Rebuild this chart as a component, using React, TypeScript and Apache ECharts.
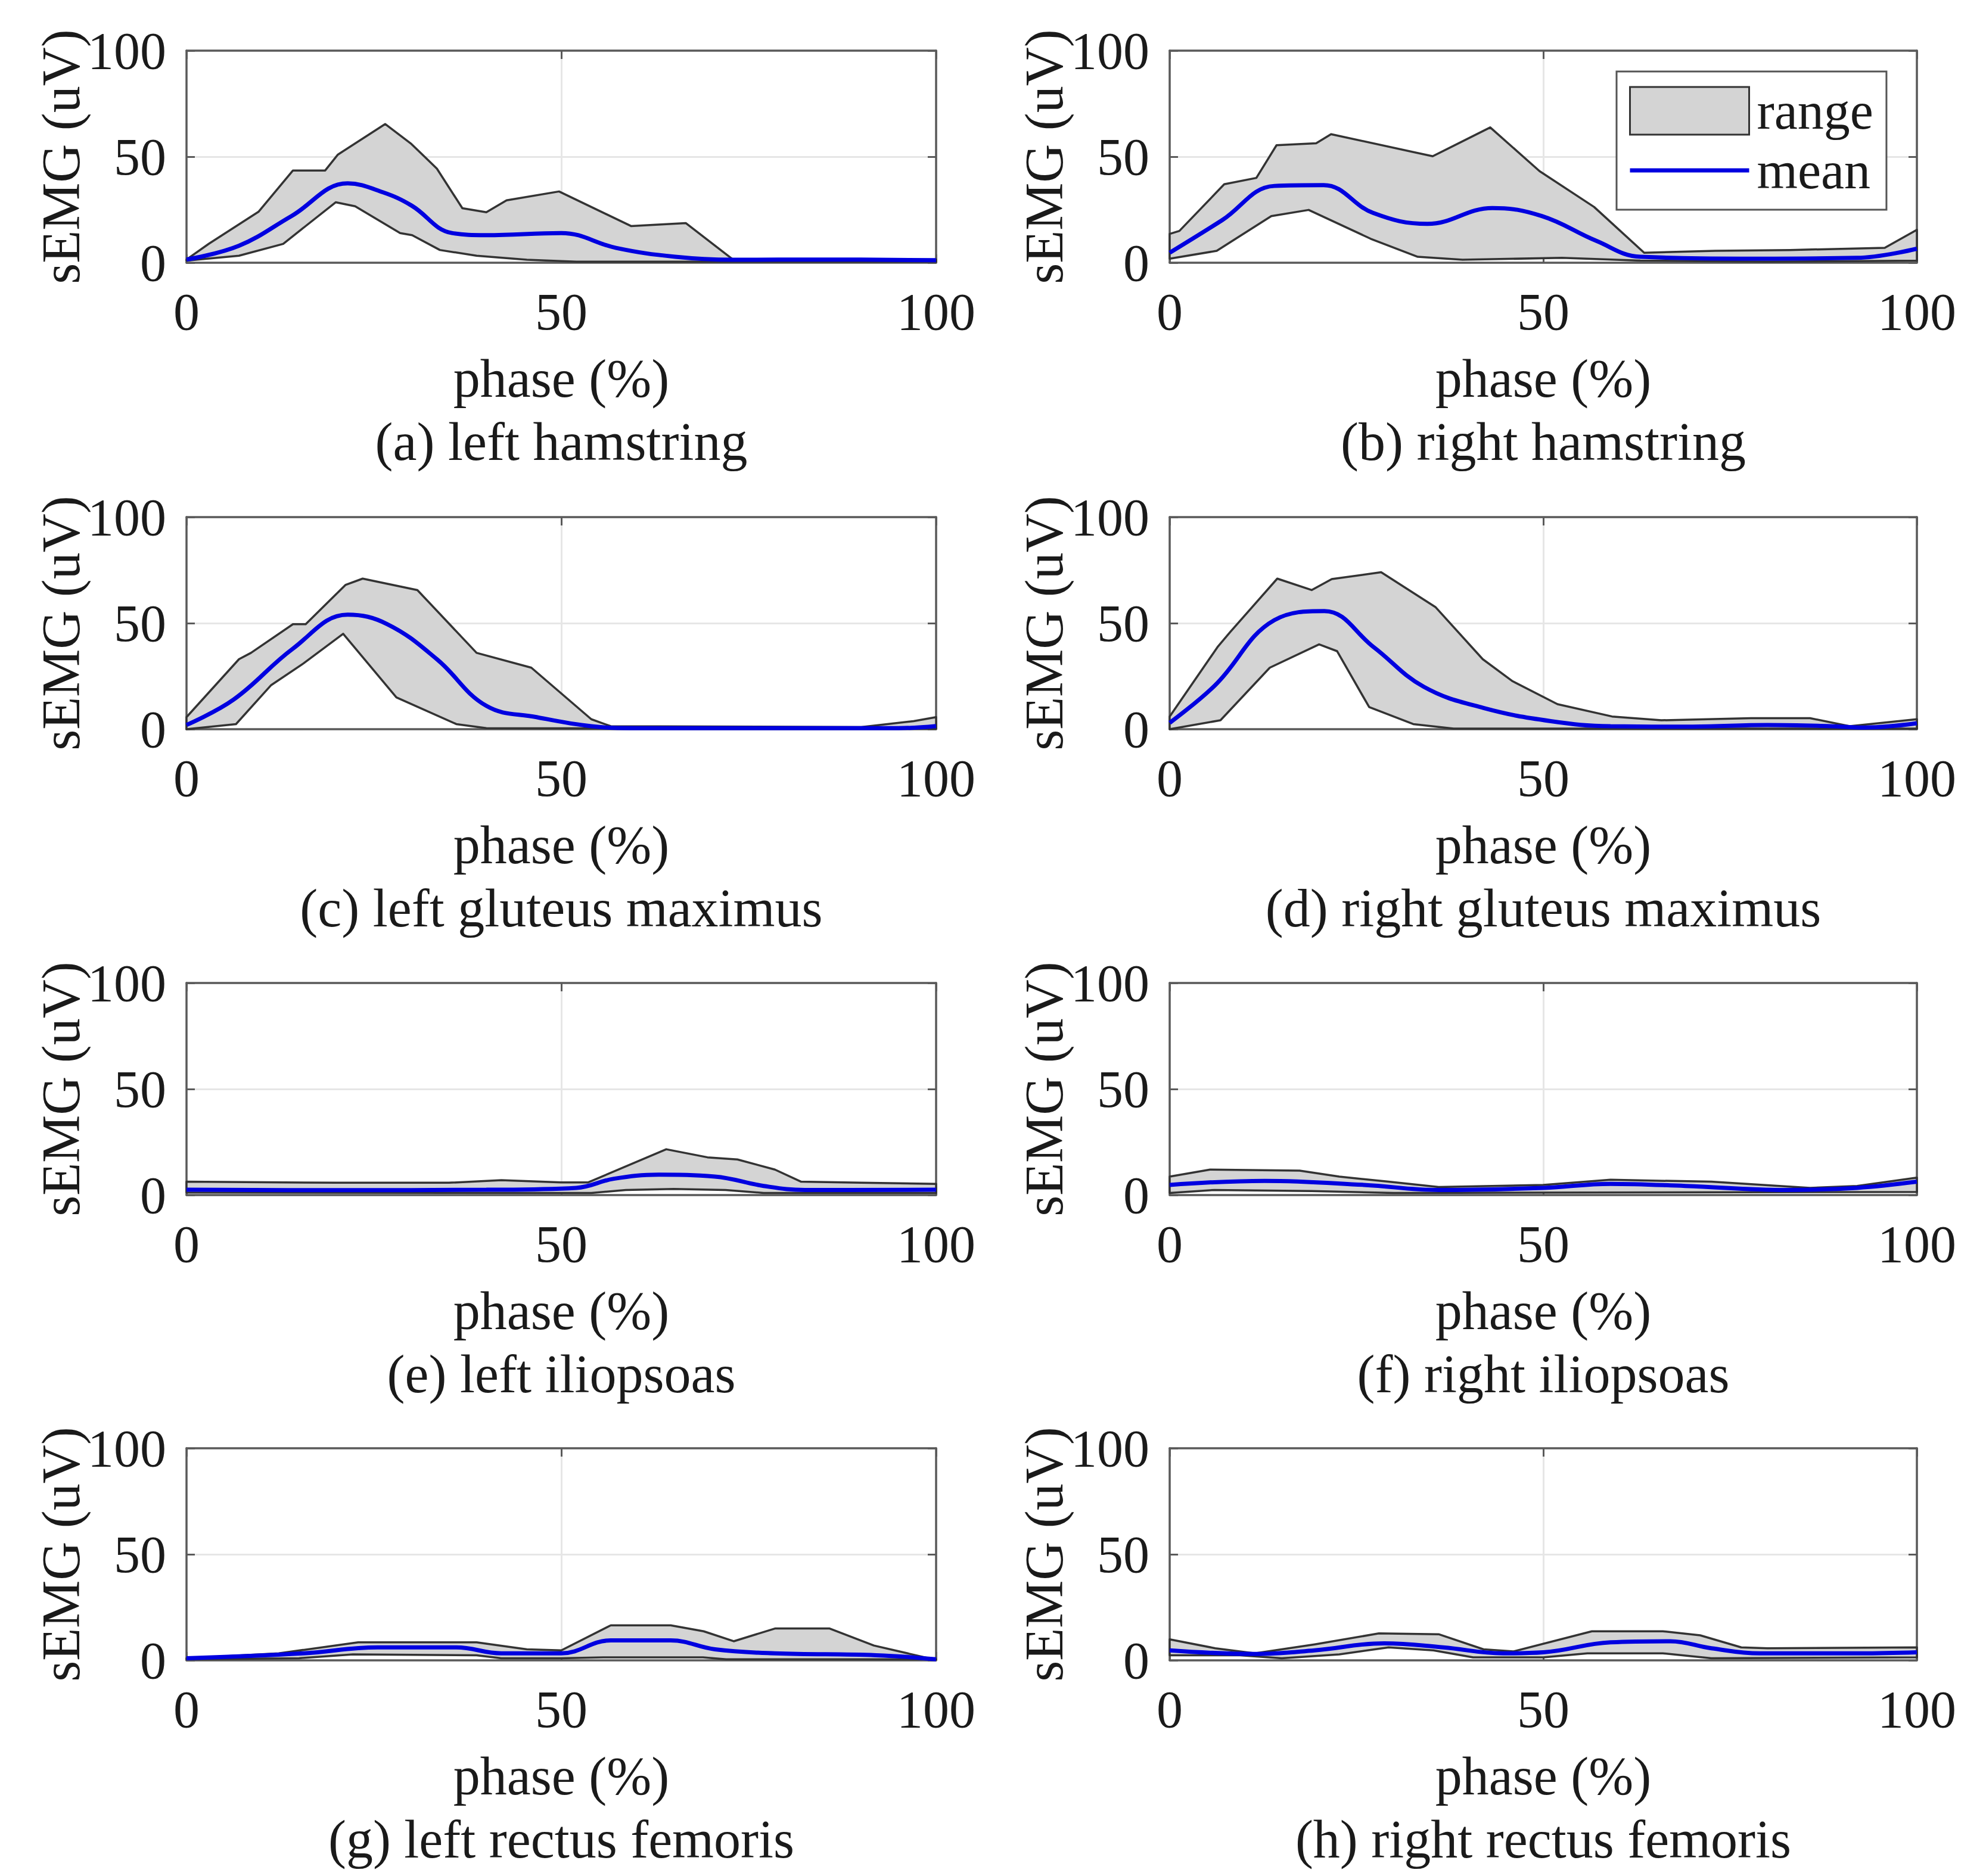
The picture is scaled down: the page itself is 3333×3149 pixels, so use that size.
import React, { useEffect, useRef } from 'react';
import * as echarts from 'echarts';

// ---------- data: [phase %, sEMG uV] ----------
const hamLUpper = [[0,1.5],[3,9],[9.6,24],[14.2,43.5],[18.5,43.5],[20.2,51],[26.5,65.4],[30,56],[33.4,44.4],[36.8,25.7],[40,23.8],[42.7,29.4],[49.7,33.6],[59.3,17.3],[66.6,18.7],[72.8,1.8],[80,1.5],[90,1.5],[100,1.5]];
const hamLLower = [[0,1],[7,3.3],[12.9,8.9],[19.9,28.5],[22.5,26.6],[28.5,14],[30.1,13],[33.8,6],[38.7,3.3],[45.4,1.4],[52,0.5],[100,0.5]];
const hamLMean = [[0,1.5],[7,8],[14,22],[21.5,37.4],[26.2,33.2],[30,27],[35.4,14],[40,13],[50,14],[57.3,7],[65.2,2.8],[72.8,1.4],[85,1.5],[100,1.2]];

const hamRUpper = [[0,13.6],[1.3,15],[7.3,37],[11.6,40],[14.3,55.4],[19.6,56.3],[21.6,60.6],[35.2,50.2],[42.9,63.8],[49.5,43.2],[56.8,26.3],[63.5,4.7],[73,5.6],[83,6],[95.7,7],[100,15.5]];
const hamRLower = [[0,1.9],[6.3,5.6],[13.6,22],[18.6,24.9],[26.9,11.3],[33.2,2.8],[39.2,1.4],[52.5,2.3],[63,1],[80,0.5],[100,1]];
const hamRMean = [[0,4.7],[7,20],[14,36.2],[20.6,36.6],[27.2,23.5],[34.5,18.3],[43.2,25.8],[49.8,22],[57.1,10.3],[63,2.8],[79,1.9],[92,2.3],[100,6.6]];

const gluLUpper = [[0,5.7],[7,33],[8.6,36],[14.2,49.5],[15.9,49.5],[21.2,68],[23.5,71],[30.8,65.6],[38.7,36],[46,29],[54,4.7],[56.6,1.4],[90,1],[97,3.8],[100,5.7]];
const gluLLower = [[0,0],[6.6,2.4],[11.3,20.8],[15.6,31],[20.9,45],[28,15],[36,2.4],[40,0.5],[100,0.3]];
const gluLMean = [[0,2],[6.3,14],[14.2,38],[21.5,54],[26.8,49.5],[33.4,33],[40,11],[46.7,5.7],[54,1.4],[60,0.5],[95,0.5],[100,1.5]];

const gluRUpper = [[0,6],[6.4,38.7],[8.1,45.8],[14.4,71],[19,65.6],[21.7,70.8],[28.3,74],[35.6,57.5],[41.9,33],[45.9,22.6],[51.9,11.8],[59.2,6],[65.8,4.2],[77.8,5.2],[85.7,5.2],[91,1.4],[100,4.7]];
const gluRLower = [[0,0],[6.8,4.2],[13.4,29],[20,40],[22.4,36.8],[26.7,10.4],[32.6,2.4],[38,0.3],[100,0.3]];
const gluRMean = [[0,3],[6.1,20.8],[14,51.4],[20.7,55.7],[27.3,38.7],[34,20],[42,10],[51,3.8],[59,1.4],[70,1.2],[80,2],[88,1.5],[93,0.8],[100,2.8]];

const iliLUpper = [[0,6.3],[20,5.8],[35,5.8],[42,7],[50,6],[53.6,6],[64,21.6],[69.5,17.8],[73.5,16.8],[78.5,12],[82,6.3],[90,5.8],[100,5.3]];
const iliLLower = [[0,1.2],[50,1],[54,1],[58.6,2.4],[65,2.9],[71.9,2.4],[77,1],[100,1]];
const iliLMean = [[0,2.5],[20,2.3],[40,2.5],[52,3.4],[57,7.7],[63,9.6],[70.5,8.7],[77,4.3],[82.5,2.4],[100,2.5]];

const iliRUpper = [[0,8.7],[5.4,12],[17.4,11.5],[22.7,8.7],[29.3,6.3],[36,3.8],[50,4.8],[59,7.2],[72.5,6.3],[85.7,3.4],[92,4.3],[100,8.2]];
const iliRLower = [[0,1],[6,2.4],[19,1.9],[30,1],[100,1.5]];
const iliRMean = [[0,4.8],[12.7,6.7],[26,4.8],[36,2.4],[50,3.4],[59,5.3],[69,4.3],[82.5,2.4],[92,3.4],[100,6.3]];

const recLUpper = [[0,1],[12.3,3.3],[22.9,8.5],[38.7,8.5],[45.4,5.2],[50,4.7],[56.6,16.5],[64.6,16.5],[69,13.7],[73,9],[78.5,15],[85.8,15],[91.7,7],[99,1],[100,0.5]];
const recLLower = [[0,0.5],[15,1],[22.2,2.8],[38.7,2.4],[42,1],[50,1],[55.6,1.4],[68.9,1.4],[72,0.5],[100,0.5]];
const recLMean = [[0,1],[15.6,3.3],[25.5,6.1],[36,6.1],[42,3.3],[50,3.3],[56.6,9.4],[64.6,9.4],[70.5,5.2],[78.5,3.3],[92,2.4],[100,0.5]];

const recRUpper = [[0,9.9],[6.1,5.7],[11.4,3.3],[19.4,7.5],[28,12.7],[36,12.3],[42,5.2],[46,4.2],[56.5,13.7],[66,13.7],[71,11.8],[76.5,6.1],[80,5.7],[100,6.1]];
const recRLower = [[0,2.4],[9.4,2.4],[15,1],[22.7,2.8],[29.3,6.1],[35.3,4.7],[40.6,1.4],[50,1.4],[55.9,3.3],[66,3.3],[72.5,1],[100,1.4]];
const recRMean = [[0,4.7],[11.4,3.0],[19.4,4.7],[28.7,8],[36.6,6.1],[44.6,3.3],[50,3.8],[59,8.5],[67,9],[72.5,5.7],[79,3.3],[92.4,3.3],[100,3.8]];

const captions = [
  '(a) left hamstring', '(b) right hamstring',
  '(c) left gluteus maximus', '(d) right gluteus maximus',
  '(e) left iliopsoas', '(f) right iliopsoas',
  '(g) left rectus femoris', '(h) right rectus femoris',
];
const xName = 'phase (%)';
const yName = 'sEMG (uV)';
const axisMin = 0;
const axisMax = 100;
const axisStep = 50;

const panels = [
  { upper: hamLUpper, lower: hamLLower, mean: hamLMean },
  { upper: hamRUpper, lower: hamRLower, mean: hamRMean },
  { upper: gluLUpper, lower: gluLLower, mean: gluLMean },
  { upper: gluRUpper, lower: gluRLower, mean: gluRMean },
  { upper: iliLUpper, lower: iliLLower, mean: iliLMean },
  { upper: iliRUpper, lower: iliRLower, mean: iliRMean },
  { upper: recLUpper, lower: recLLower, mean: recLMean },
  { upper: recRUpper, lower: recRLower, mean: recRMean },
];

// ---------- layout ----------
const W = 3333;
const H = 3149;
const COLS = [{ left: 313, width: 1258 }, { left: 1963, width: 1254 }];
const ROWS = [85, 868, 1650, 2431];
const PH = 356;
const FONT = '"Liberation Serif", "Times New Roman", Times, serif';
const TXT = '#1a1a1a';
const AXC = '#5a5a5a';
const BAND = '#d4d4d4';
const EDGE = '#333333';
const BLUE = '#0000e0';

function buildOption() {
  const grid: any[] = [];
  const xAxis: any[] = [];
  const yAxis: any[] = [];
  const series: any[] = [];
  const graphic: any[] = [];

  panels.forEach((p, i) => {
    const col = COLS[i % 2];
    const top = ROWS[Math.floor(i / 2)];
    grid.push({ left: col.left, top, width: col.width, height: PH, containLabel: false, show: false });

    const common = {
      type: 'value', min: axisMin, max: axisMax, interval: axisStep, gridIndex: i,
      axisLine: { show: true, onZero: false, lineStyle: { color: AXC, width: 3.5 } },
      axisTick: { show: true, inside: true, length: 14, lineStyle: { color: AXC, width: 3 } },
    };
    xAxis.push({
      ...common, position: 'bottom',
      axisLabel: { show: true, margin: 38, fontFamily: FONT, fontSize: 88, color: TXT },
      splitLine: { show: true, lineStyle: { color: '#e6e6e6', width: 3 } },
    });
    xAxis.push({ ...common, position: 'top', axisLabel: { show: false }, splitLine: { show: false } });
    yAxis.push({
      ...common, position: 'left',
      axisLabel: { show: true, margin: 34, fontFamily: FONT, fontSize: 88, color: TXT },
      splitLine: { show: true, lineStyle: { color: '#e6e6e6', width: 3 } },
    });
    yAxis.push({ ...common, position: 'right', axisLabel: { show: false }, splitLine: { show: false } });

    const upper = p.upper;
    const lower = p.lower;
    series.push({
      type: 'custom',
      name: 'range',
      xAxisIndex: 2 * i,
      yAxisIndex: 2 * i,
      data: [[0, 0]],
      z: 3,
      itemStyle: { color: BAND, borderColor: EDGE, borderWidth: 3 },
      renderItem: (params: any, api: any) => {
        const pts = [
          ...upper.map((d) => api.coord(d)),
          ...lower.slice().reverse().map((d) => api.coord(d)),
        ];
        return {
          type: 'polygon',
          shape: { points: pts },
          style: { fill: BAND, stroke: EDGE, lineWidth: 3.5, lineJoin: 'round' },
        };
      },
    });
    series.push({
      type: 'line',
      name: 'mean',
      xAxisIndex: 2 * i,
      yAxisIndex: 2 * i,
      data: p.mean,
      smooth: 0.4,
      showSymbol: false,
      symbol: 'none',
      z: 4,
      lineStyle: { color: BLUE, width: 7 },
      itemStyle: { color: BLUE },
    });

    const bottom = top + PH;
    const cx = col.left + col.width / 2;
    graphic.push({
      type: 'text', x: col.left - 211, y: top + PH / 2, rotation: Math.PI / 2,
      style: { text: yName, fontFamily: FONT, fontSize: 90, fill: TXT, align: 'center', verticalAlign: 'middle' },
    });
    graphic.push({
      type: 'text', x: cx, y: bottom + 194,
      style: { text: xName, fontFamily: FONT, fontSize: 90, fill: TXT, align: 'center', verticalAlign: 'middle' },
    });
    graphic.push({
      type: 'text', x: cx, y: bottom + 300,
      style: { text: captions[i], fontFamily: FONT, fontSize: 90, fill: TXT, align: 'center', verticalAlign: 'middle' },
    });
  });

  return {
    animation: false,
    backgroundColor: '#ffffff',
    grid, xAxis, yAxis, series, graphic,
    legend: {
      show: true,
      orient: 'vertical',
      left: 2713,
      top: 120,
      selectedMode: false,
      backgroundColor: '#ffffff',
      borderColor: '#555555',
      borderWidth: 3,
      borderRadius: 0,
      padding: [22, 22, 22, 21],
      itemWidth: 200,
      itemHeight: 80,
      itemGap: 12,
      symbolKeepAspect: true,
      textStyle: { fontFamily: FONT, fontSize: 88, lineHeight: 80, color: TXT, padding: [0, 0, 0, 8] },
      data: [
        { name: 'range', icon: 'rect', itemStyle: { color: BAND, borderColor: EDGE, borderWidth: 3 } },
        { name: 'mean', icon: 'path://M0,0H200V7H0Z', itemStyle: { color: BLUE, borderWidth: 0 } },
      ],
    },
  };
}

export default function App() {
  const ref = useRef<HTMLDivElement>(null);
  useEffect(() => {
    if (!ref.current) return;
    const chart = echarts.init(ref.current, undefined, { renderer: 'svg' });
    chart.setOption(buildOption() as any);
    return () => chart.dispose();
  }, []);
  return (
    <div
      ref={ref}
      style={{ position: 'absolute', left: 0, top: 0, width: W, height: H, background: '#fff' }}
    />
  );
}
